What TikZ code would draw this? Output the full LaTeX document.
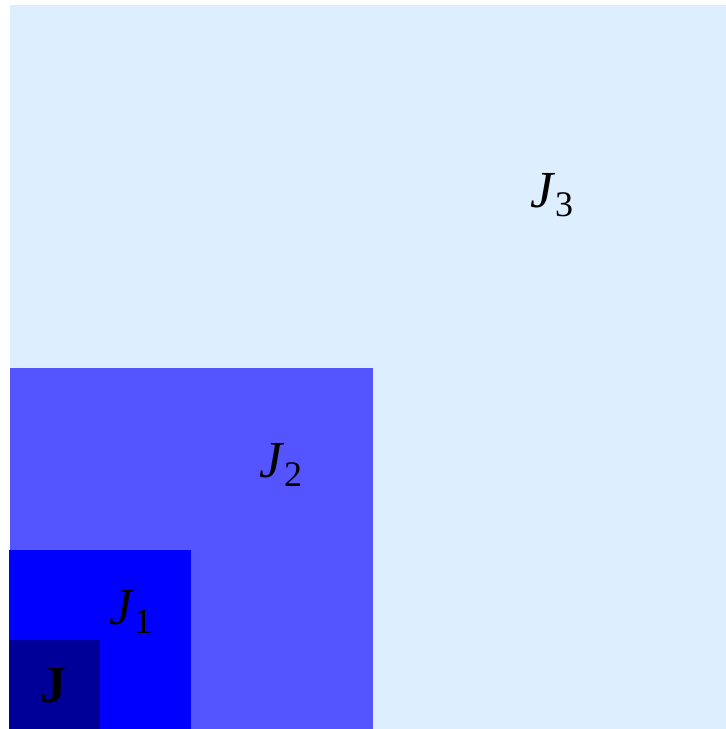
\documentclass[tikz,border=0pt]{standalone}
\usepackage{fontspec}
\setmainfont{Liberation Serif}
\definecolor{jthree}{HTML}{DDEEFF}
\definecolor{jtwo}{HTML}{5555FF}
\definecolor{jone}{HTML}{0000FF}
\definecolor{jzero}{HTML}{000099}
\newcommand{\lab}[2]{{\itshape #1}\kern1pt\raisebox{-0.17em}{\fontsize{36}{36}\selectfont #2}}
\begin{document}
\begin{tikzpicture}[x=1pt,y=1pt,
  lbl/.style={font=\fontsize{52}{52}\selectfont, inner sep=0pt}]
\useasboundingbox (0,0) rectangle (726,729);
\fill[white] (0,0) rectangle (726,729);
\fill[jthree] (10,0) rectangle (726,724);
\fill[jtwo] (10,0) rectangle (373,361);
\fill[jone] (9,0) rectangle (191,179);
\fill[jzero] (9,0) rectangle (100,89);
\node[lbl] (l3) at (552,534) {\lab{J}{3}};
\node[lbl] (l2) at (281,264) {\lab{J}{2}};
\node[lbl] (l1) at (131,117) {\lab{J}{1}};
\node[lbl] (l0) at (54,43) {\bfseries J};
\end{tikzpicture}
\end{document}
